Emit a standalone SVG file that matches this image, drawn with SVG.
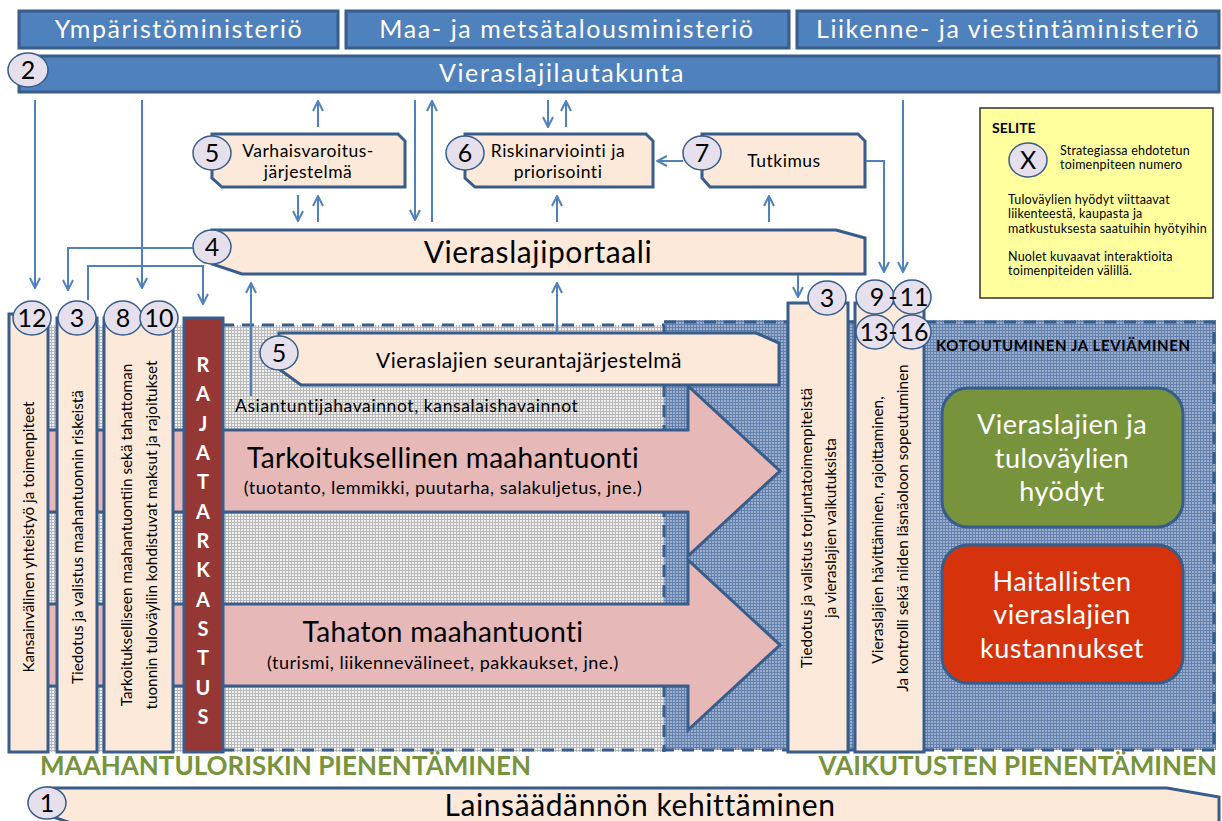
<svg xmlns="http://www.w3.org/2000/svg" width="1222" height="821" viewBox="0 0 1222 821">
<defs>
<style>
text{font-family:Lato,"Liberation Sans",sans-serif;}
.blue{fill:#4F81BD;stroke:#385D8A;stroke-width:3;}
.wt{fill:#fff;font-size:25px;letter-spacing:1.6px;text-anchor:middle;}
.peach{fill:#FDE9D9;stroke:#385D8A;stroke-width:3;}
.circ{fill:#E6E0EC;stroke:#385D8A;stroke-width:1.5;}
.num{font-size:25px;fill:#000;text-anchor:middle;}
.bt{fill:#000;text-anchor:middle;}
.sm{font-size:17.5px;letter-spacing:0.5px;}
.con{fill:none;stroke:#4F81BD;stroke-width:2;}
.arr{marker-end:url(#ah);}
.dash{fill:none;stroke:#385D8A;stroke-width:3;stroke-dasharray:12 8;}
.col{font-size:15.3px;fill:#000;text-anchor:middle;}
.raja{font-size:20px;font-weight:bold;fill:#fff;text-anchor:middle;}
.lg{font-size:12.5px;letter-spacing:0.2px;fill:#000;}
.green{font-size:26px;font-weight:bold;fill:#77933C;}
.big{fill:#E6B9B8;stroke:#385D8A;stroke-width:3;}
.bx{font-size:27px;letter-spacing:0.5px;fill:#fff;text-anchor:middle;}
</style>
<marker id="ah" viewBox="0 0 12 12" refX="11" refY="6" markerWidth="12" markerHeight="12" markerUnits="userSpaceOnUse" orient="auto">
<path d="M1,1 L11,6 L1,11" fill="none" stroke="#4F81BD" stroke-width="2"/>
</marker>
<pattern id="gg" width="3" height="3" patternUnits="userSpaceOnUse"><rect width="3" height="3" fill="#F0F0F0"/><path d="M0 0.5H3M0.5 0V3" stroke="#B8B8B8" stroke-width="1"/></pattern>
<pattern id="bg" width="3" height="3" patternUnits="userSpaceOnUse"><rect width="3" height="3" fill="#9CAECD"/><path d="M0 0.5H3M0.5 0V3" stroke="#6481AE" stroke-width="1"/></pattern>
</defs>
<rect width="1222" height="821" fill="#fff"/>

<g id="regions">
<rect x="10" y="325" width="654" height="427" fill="url(#gg)"/>
<rect x="664" y="320" width="552" height="430" fill="url(#bg)"/>
<path class="dash" d="M222,325 H664"/>
<path class="dash" d="M664,322 H1214 V748"/>
<path class="dash" d="M664,325 V752"/>
<path class="dash" d="M222,750 H1216"/>
</g>

<g id="import-arrows">
<path class="big" d="M10,430 H688 V386 L780,471 L688,556 V512 H10 Z"/>
<text class="bt" x="443" y="468" font-size="28" letter-spacing="0.3">Tarkoituksellinen maahantuonti</text>
<text class="bt" x="443" y="494" font-size="18" letter-spacing="0.5">(tuotanto, lemmikki, puutarha, salakuljetus, jne.)</text>
<path class="big" d="M10,604 H688 V560 L780,645 L688,730 V686 H10 Z"/>
<text class="bt" x="443" y="642" font-size="28" letter-spacing="0.3">Tahaton maahantuonti</text>
<text class="bt" x="443" y="669" font-size="18" letter-spacing="0.5">(turismi, liikennevälineet, pakkaukset, jne.)</text>
</g>

<g id="ministries">
<rect class="blue" x="19" y="11" width="319" height="37"/>
<text class="wt" x="179" y="38">Ympäristöministeriö</text>
<rect class="blue" x="346" y="11" width="443" height="37"/>
<text class="wt" x="567" y="38">Maa- ja metsätalousministeriö</text>
<rect class="blue" x="797" y="11" width="422" height="37"/>
<text class="wt" x="1008" y="38">Liikenne- ja viestintäministeriö</text>
</g>

<g id="n2">
<rect class="blue" x="19" y="56" width="1200" height="36"/>
<text class="wt" x="562" y="82">Vieraslajilautakunta</text>
<ellipse class="circ" cx="28" cy="70" rx="20" ry="17"/>
<text class="num" x="28" y="79">2</text>
</g>

<g id="n5a">
<path class="peach" d="M212,134 H398 L405,141 V187 H222 L212,178 Z"/>
<text class="bt sm" x="308" y="157">Varhaisvaroitus-</text>
<text class="bt sm" x="308" y="178">järjestelmä</text>
<ellipse class="circ" cx="212" cy="153" rx="19" ry="17"/>
<text class="num" x="212" y="162">5</text>
</g>

<g id="n6">
<path class="peach" d="M465,134 H646 L653,141 V187 H475 L465,178 Z"/>
<text class="bt sm" x="558" y="157">Riskinarviointi ja</text>
<text class="bt sm" x="558" y="178">priorisointi</text>
<ellipse class="circ" cx="465" cy="153" rx="19" ry="17"/>
<text class="num" x="465" y="162">6</text>
</g>

<g id="n7">
<path class="peach" d="M702,134 H858 L865,141 V187 H710 L702,178 Z"/>
<text class="bt sm" x="784" y="167">Tutkimus</text>
<ellipse class="circ" cx="702" cy="153" rx="19" ry="17"/>
<text class="num" x="702" y="162">7</text>
</g>

<g id="n4">
<path class="peach" d="M212,230 H836 L865,238 V274 H242 L212,264 Z"/>
<text class="bt" x="538" y="263" font-size="30" letter-spacing="0.6">Vieraslajiportaali</text>
<ellipse class="circ" cx="212" cy="247" rx="19" ry="17"/>
<text class="num" x="212" y="256">4</text>
</g>

<g id="n5b">
<path class="peach" d="M279,333 H756 L779,343 V385 H301 L279,369 Z"/>
<text class="bt" x="529" y="368" font-size="21" letter-spacing="0.5">Vieraslajien seurantajärjestelmä</text>
<ellipse class="circ" cx="279" cy="353" rx="19" ry="17"/>
<text class="num" x="279" y="362">5</text>
<text x="235" y="412" font-size="17.5" letter-spacing="0.6" fill="#000">Asiantuntijahavainnot, kansalaishavainnot</text>
</g>

<g id="n12">
<rect class="peach" x="9" y="314" width="39" height="438"/>
<text class="col" transform="rotate(-90 34 537)" x="34" y="537">Kansainvälinen yhteistyö ja toimenpiteet</text>
<ellipse class="circ" cx="32" cy="318" rx="19" ry="17"/>
<text class="num" x="32" y="327">12</text>
</g>

<g id="n3a">
<rect class="peach" x="57" y="318" width="40" height="434"/>
<text class="col" transform="rotate(-90 83 537)" x="83" y="537">Tiedotus ja valistus maahantuonnin riskeistä</text>
<ellipse class="circ" cx="77" cy="318" rx="19" ry="17"/>
<text class="num" x="77" y="327">3</text>
</g>

<g id="n8-10">
<rect class="peach" x="104" y="318" width="69" height="434"/>
<text class="col" transform="rotate(-90 132 535)" x="132" y="535">Tarkoitukselliseen maahantuontiin sekä tahattoman</text>
<text class="col" transform="rotate(-90 157 535)" x="157" y="535">tuonnin tuloväyliin kohdistuvat maksut ja rajoitukset</text>
<ellipse class="circ" cx="123" cy="318" rx="19" ry="17"/>
<text class="num" x="123" y="327">8</text>
<ellipse class="circ" cx="159" cy="318" rx="19" ry="17"/>
<text class="num" x="159" y="327">10</text>
</g>

<g id="rajatarkastus">
<rect x="184" y="318" width="39" height="434" fill="#953735" stroke="#385D8A" stroke-width="3"/>
<text class="raja" x="203" y="372">R</text>
<text class="raja" x="203" y="401">A</text>
<text class="raja" x="203" y="431">J</text>
<text class="raja" x="203" y="460">A</text>
<text class="raja" x="203" y="489">T</text>
<text class="raja" x="203" y="519">A</text>
<text class="raja" x="203" y="548">R</text>
<text class="raja" x="203" y="577">K</text>
<text class="raja" x="203" y="607">A</text>
<text class="raja" x="203" y="636">S</text>
<text class="raja" x="203" y="665">T</text>
<text class="raja" x="203" y="695">U</text>
<text class="raja" x="203" y="724">S</text>
</g>

<g id="n3b">
<rect class="peach" x="788" y="303" width="60" height="449"/>
<text class="col" transform="rotate(-90 812 528)" x="812" y="528">Tiedotus ja valistus torjuntatoimenpiteistä</text>
<text class="col" transform="rotate(-90 836 528)" x="836" y="528">ja vieraslajien vaikutuksista</text>
<ellipse class="circ" cx="827" cy="298" rx="19" ry="17"/>
<text class="num" x="827" y="307">3</text>
</g>

<g id="n9-16">
<rect class="peach" x="855" y="303" width="69" height="449"/>
<text class="col" transform="rotate(-90 883 530)" x="883" y="530">Vieraslajien hävittäminen, rajoittaminen,</text>
<text class="col" transform="rotate(-90 908 528)" x="908" y="528">Ja kontrolli sekä niiden läsnäoloon sopeutuminen</text>
<ellipse class="circ" cx="875" cy="297" rx="19" ry="17"/>
<ellipse class="circ" cx="912" cy="297" rx="19" ry="17"/>
<ellipse class="circ" cx="875" cy="332" rx="19" ry="17"/>
<ellipse class="circ" cx="912" cy="332" rx="19" ry="17"/>
<text class="num" x="877" y="306">9</text>
<text class="num" x="893" y="306">-</text>
<text class="num" x="914" y="306">11</text>
<text class="num" x="874" y="341">13</text>
<text class="num" x="893" y="341">-</text>
<text class="num" x="914" y="341">16</text>
</g>

<g id="impacts">
<text x="936" y="351" font-size="15" font-weight="bold" letter-spacing="0.6" fill="#000">KOTOUTUMINEN JA LEVIÄMINEN</text>
<rect x="942" y="388" width="241" height="139" rx="26" fill="#77933C" stroke="#385D8A" stroke-width="3"/>
<text class="bx" x="1062" y="434">Vieraslajien ja</text>
<text class="bx" x="1062" y="468">tuloväylien</text>
<text class="bx" x="1062" y="501">hyödyt</text>
<rect x="942" y="545" width="241" height="138" rx="26" fill="#D6330C" stroke="#385D8A" stroke-width="3"/>
<text class="bx" x="1062" y="591">Haitallisten</text>
<text class="bx" x="1062" y="624">vieraslajien</text>
<text class="bx" x="1062" y="658">kustannukset</text>
</g>

<g id="legend">
<rect x="980" y="108" width="233" height="190" fill="#FFFF9E" stroke="#333" stroke-width="1.5"/>
<text x="992" y="133" font-size="14" font-weight="bold" fill="#000">SELITE</text>
<ellipse class="circ" cx="1028" cy="160" rx="19" ry="17"/>
<text class="num" x="1028" y="169">X</text>
<text class="lg" x="1060" y="155">Strategiassa ehdotetun</text>
<text class="lg" x="1060" y="169">toimenpiteen numero</text>
<text class="lg" x="1008" y="204">Tuloväylien hyödyt viittaavat</text>
<text class="lg" x="1008" y="218">liikenteestä, kaupasta ja</text>
<text class="lg" x="1008" y="233">matkustuksesta saatuihin hyötyihin</text>
<text class="lg" x="1008" y="261">Nuolet kuvaavat interaktioita</text>
<text class="lg" x="1008" y="275">toimenpiteiden välillä.</text>
</g>

<g id="labels">
<text class="green" x="40" y="775">MAAHANTULORISKIN PIENENTÄMINEN</text>
<text class="green" x="1217" y="775" text-anchor="end">VAIKUTUSTEN PIENENTÄMINEN</text>
</g>

<g id="n1">
<path class="peach" d="M47,788 H1167 L1219,797 V826 H80 L47,815 Z"/>
<text class="bt" x="640" y="816" font-size="30" letter-spacing="0.6">Lainsäädännön kehittäminen</text>
<ellipse class="circ" cx="47" cy="803" rx="19" ry="16"/>
<text class="num" x="47" y="812">1</text>
</g>

<g id="connectors">
<path class="con arr" d="M35,100 V288"/>
<path class="con arr" d="M142,100 V288"/>
<path class="con arr" d="M318,127 V101"/>
<path class="con arr" d="M415,100 V220"/>
<path class="con arr" d="M432,222 V101"/>
<path class="con arr" d="M548,100 V127"/>
<path class="con arr" d="M566,127 V101"/>
<path class="con arr" d="M903,100 V272"/>
<path class="con arr" d="M866,161 H884 V272"/>
<path class="con arr" d="M683,161 H657"/>
<path class="con arr" d="M298,195 V221"/>
<path class="con arr" d="M318,222 V196"/>
<path class="con arr" d="M557,222 V196"/>
<path class="con arr" d="M769,222 V196"/>
<path class="con arr" d="M193,248 H68 V290"/>
<path class="con arr" d="M88,300 V266 H203 V304"/>
<path class="con arr" d="M251,396 V283"/>
<path class="con arr" d="M557,333 V283"/>
<path class="con arr" d="M798,275 V297"/>
</g>
</svg>
